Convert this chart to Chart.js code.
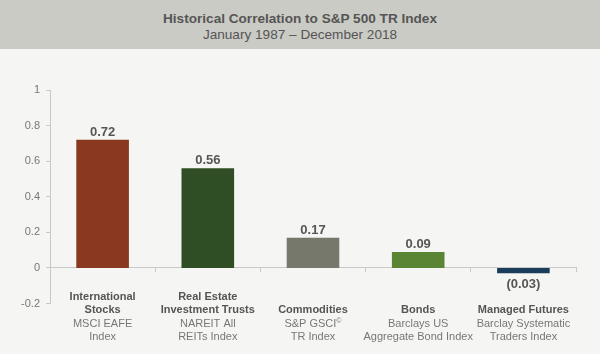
<!DOCTYPE html>
<html>
<head>
<meta charset="utf-8">
<script src="https://cdn.jsdelivr.net/npm/chart.js@4/dist/chart.umd.min.js"></script>
<style>
  html, body { margin: 0; padding: 0; background: #f5f5f3; }
  #wrap { width: 600px; height: 354px; overflow: hidden; }
  #head {
    height: 49px; box-sizing: border-box; padding-top: 11px;
    background: #cbcbc5; color: #555; text-align: center;
    font-family: "Liberation Sans", Arial, sans-serif; font-size: 13.6px; line-height: 16px;
  }
  #head .t { font-weight: bold; }
  #box { position: relative; width: 600px; height: 305px; }
</style>
</head>
<body>
<div id="wrap">
  <div id="head">
    <div class="t">Historical Correlation to S&amp;P 500 TR Index</div>
    <div>January 1987 – December 2018</div>
  </div>
  <div id="box"><canvas id="c"></canvas></div>
</div>
<script>
// categories: bold name lines, then index lines
var names = [
  ["International", "Stocks"],
  ["Real Estate", "Investment Trusts"],
  ["Commodities"],
  ["Bonds"],
  ["Managed Futures"]
];
var indexes = [
  ["MSCI EAFE", "Index"],
  ["NAREIT All", "REITs Index"],
  ["S&P GSCI\u00A9", "TR Index"],
  ["Barclays US", "Aggregate Bond Index"],
  ["Barclay Systematic", "Traders Index"]
];
var correlation = [0.72, 0.56, 0.17, 0.09, -0.03];
var valueText = ["0.72", "0.56", "0.17", "0.09", "(0.03)"];
var barColors = ["#8a381f", "#2f4e25", "#76786c", "#5a8535", "#1b3d5c"];

var FONT = "'Liberation Sans', Arial, sans-serif";

// draws a line, with a trailing © set small and raised
function drawLine(ctx, s, x, y, size) {
  if (s.slice(-1) !== "\u00A9") { ctx.fillText(s, x, y); return; }
  var main = s.slice(0, -1);
  var w1 = ctx.measureText(main).width;
  var font = ctx.font;
  ctx.font = (size * 0.65) + "px " + FONT;
  var w2 = ctx.measureText("\u00A9").width;
  var left = x - (w1 + w2) / 2;
  ctx.textAlign = "left";
  ctx.fillText("\u00A9", left + w1, y - 3);
  ctx.font = font;
  ctx.fillText(main, left, y);
  ctx.textAlign = "center";
}

var labelsPlugin = {
  id: "labels",
  afterDatasetsDraw: function (chart) {
    var ctx = chart.ctx;
    var meta = chart.getDatasetMeta(0);
    var xs = chart.scales.x;
    ctx.save();
    ctx.textAlign = "center";
    ctx.textBaseline = "middle";
    // value labels
    ctx.font = "bold 13px " + FONT;
    ctx.fillStyle = "#555";
    meta.data.forEach(function (bar, i) {
      if (correlation[i] >= 0) {
        ctx.fillText(valueText[i], bar.x, bar.y - 7.5);
      } else {
        ctx.fillText(valueText[i], bar.x, bar.y + 11);
      }
    });
    // category labels, bottom aligned
    var lh = 13.4, bottom = 288, size = 11;
    for (var i = 0; i < names.length; i++) {
      var x = xs.getPixelForValue(i);
      var lines = names[i].length + indexes[i].length;
      var y = bottom - (lines - 1) * lh;
      ctx.font = "bold " + size + "px " + FONT;
      ctx.fillStyle = "#555";
      names[i].forEach(function (s) { ctx.fillText(s, x, y); y += lh; });
      ctx.font = size + "px " + FONT;
      ctx.fillStyle = "#777";
      indexes[i].forEach(function (s) { drawLine(ctx, s, x, y, size); y += lh; });
    }
    ctx.restore();
  }
};

new Chart(document.getElementById("c"), {
  type: "bar",
  data: {
    labels: names.map(function (n) { return n.join(" "); }),
    datasets: [{
      data: correlation,
      backgroundColor: barColors,
      borderWidth: 0,
      barPercentage: 0.5,
      categoryPercentage: 1
    }]
  },
  options: {
    responsive: true,
    maintainAspectRatio: false,
    animation: false,
    layout: { padding: { left: 0, right: 24, top: 41, bottom: 50.5 } },
    plugins: { legend: { display: false }, tooltip: { enabled: false } },
    scales: {
      x: {
        position: { y: 0 },
        grid: { drawOnChartArea: false, drawTicks: true, tickLength: 4, color: "#c8c8c8", offset: true },
        border: { color: "#c8c8c8" },
        ticks: { display: false }
      },
      y: {
        min: -0.2, max: 1,
        afterFit: function (s) { s.width = 50; },
        grid: { drawOnChartArea: false, drawTicks: true, tickLength: 4, color: "#c8c8c8" },
        border: { color: "#c8c8c8" },
        ticks: {
          stepSize: 0.2, padding: 6, color: "#777",
          font: { family: FONT, size: 11 },
          callback: function (v) { return String(Math.round(v * 10) / 10); }
        }
      }
    }
  },
  plugins: [labelsPlugin]
});
</script>
</body>
</html>
